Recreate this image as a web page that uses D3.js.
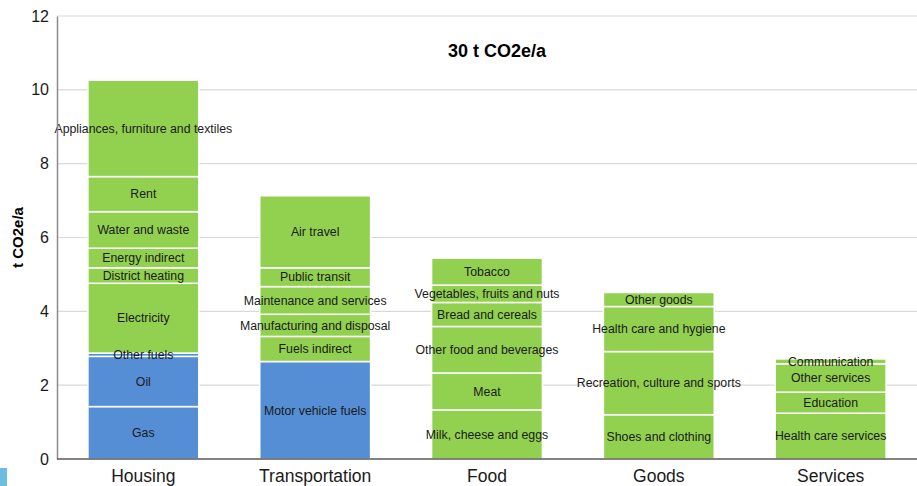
<!DOCTYPE html>
<html>
<head>
<meta charset="utf-8">
<script src="https://cdn.jsdelivr.net/npm/d3@7"></script>
<style>
  body { margin: 0; background: #fff; }
  text { font-family: "Liberation Sans", Arial, sans-serif; }
</style>
</head>
<body>
<div id="chart"></div>
<script>
// categories along the x axis
const categories = ["Housing", "Transportation", "Food", "Goods", "Services"];

// segments per category, bottom to top
const housingNames = ["Gas", "Oil", "Other fuels", "Electricity", "District heating", "Energy indirect", "Water and waste", "Rent", "Appliances, furniture and textiles"];
const housingValues = [1.42, 1.36, 0.09, 1.89, 0.42, 0.53, 0.99, 0.95, 2.61];
const housingDirect = [true, true, true, false, false, false, false, false, false];

const transportNames = ["Motor vehicle fuels", "Fuels indirect", "Manufacturing and disposal", "Maintenance and services", "Public transit", "Air travel"];
const transportValues = [2.64, 0.68, 0.60, 0.75, 0.51, 1.95];
const transportDirect = [true, false, false, false, false, false];

const foodNames = ["Milk, cheese and eggs", "Meat", "Other food and beverages", "Bread and cereals", "Vegetables, fruits and nuts", "Tobacco"];
const foodValues = [1.33, 1.00, 1.26, 0.65, 0.47, 0.73];

const goodsNames = ["Shoes and clothing", "Recreation, culture and sports", "Health care and hygiene", "Other goods"];
const goodsValues = [1.20, 1.71, 1.22, 0.38];

const servicesNames = ["Health care services", "Education", "Other services", "Communication"];
const servicesValues = [1.24, 0.57, 0.77, 0.13];

const yTicks = [0, 2, 4, 6, 8, 10, 12];
const title = "30 t CO2e/a";
const yLabel = "t CO2e/a";

const width = 917, height = 486;
const margin = { top: 16, right: 0, bottom: 27, left: 57 };

const svg = d3.select("#chart").append("svg")
    .attr("width", width)
    .attr("height", height);

const x = d3.scaleBand()
    .domain(categories)
    .range([margin.left, width - margin.right])
    .paddingInner(0.355)
    .paddingOuter(0.18);

const y = d3.scaleLinear()
    .domain([0, 12])
    .range([height - margin.bottom, margin.top]);

// gridlines
svg.append("g")
    .selectAll("line")
    .data(yTicks.filter(d => d > 0))
    .join("line")
    .attr("x1", margin.left)
    .attr("x2", width)
    .attr("y1", d => y(d))
    .attr("y2", d => y(d))
    .attr("stroke", "#d9d9d9")
    .attr("stroke-width", 1.2);

// build stacked segments
function buildSegments(cat, names, values, direct) {
    let acc = 0;
    return names.map((n, i) => {
        const seg = { cat: cat, name: n, y0: acc, y1: acc + values[i], direct: direct ? direct[i] : false };
        acc += values[i];
        return seg;
    });
}

const segments = [].concat(
    buildSegments("Housing", housingNames, housingValues, housingDirect),
    buildSegments("Transportation", transportNames, transportValues, transportDirect),
    buildSegments("Food", foodNames, foodValues),
    buildSegments("Goods", goodsNames, goodsValues),
    buildSegments("Services", servicesNames, servicesValues)
);

svg.append("g")
    .selectAll("rect")
    .data(segments)
    .join("rect")
    .attr("x", d => x(d.cat))
    .attr("width", x.bandwidth())
    .attr("y", d => y(d.y1))
    .attr("height", d => y(d.y0) - y(d.y1))
    .attr("fill", d => d.direct ? "#558ed5" : "#92d050")
    .attr("stroke", "#ffffff")
    .attr("stroke-width", 1.5);

svg.append("g")
    .selectAll("text")
    .data(segments)
    .join("text")
    .attr("x", d => x(d.cat) + x.bandwidth() / 2)
    .attr("y", d => (y(d.y0) + y(d.y1)) / 2)
    .attr("dy", "0.35em")
    .attr("text-anchor", "middle")
    .style("font-size", "12.3px")
    .style("fill", "#1a1a1a")
    .text(d => d.name);

// axes
const yAxis = svg.append("g")
    .attr("transform", `translate(${margin.left},0)`)
    .call(d3.axisLeft(y).tickValues(yTicks).tickSize(0).tickPadding(8));
yAxis.select(".domain").attr("stroke", "#8c8c8c").attr("stroke-width", 1.5);
yAxis.selectAll("text")
    .style("font-size", "16px")
    .style("fill", "#1a1a1a")
    .style("font-family", "Liberation Sans, Arial, sans-serif");

const xAxis = svg.append("g")
    .attr("transform", `translate(0,${y(0)})`)
    .call(d3.axisBottom(x).tickSize(0).tickPadding(11));
xAxis.select(".domain").attr("stroke", "#595959").attr("stroke-width", 1.5)
    .attr("d", `M${margin.left},0H${width}`);
xAxis.selectAll("text")
    .style("font-size", "17.5px")
    .style("fill", "#1a1a1a")
    .style("font-family", "Liberation Sans, Arial, sans-serif");

// title
svg.append("text")
    .attr("x", 497)
    .attr("y", 57)
    .attr("text-anchor", "middle")
    .style("font-size", "18px")
    .style("font-weight", "bold")
    .text(title);

// y label
svg.append("text")
    .attr("transform", `translate(23,${(y(0) + y(12)) / 2}) rotate(-90)`)
    .attr("text-anchor", "middle")
    .style("font-size", "15px")
    .style("font-weight", "bold")
    .text(yLabel);

// small accent block at bottom left
svg.append("rect")
    .attr("x", 0)
    .attr("y", 468)
    .attr("width", 7)
    .attr("height", 18)
    .attr("fill", "#6cbde0");
</script>
</body>
</html>
